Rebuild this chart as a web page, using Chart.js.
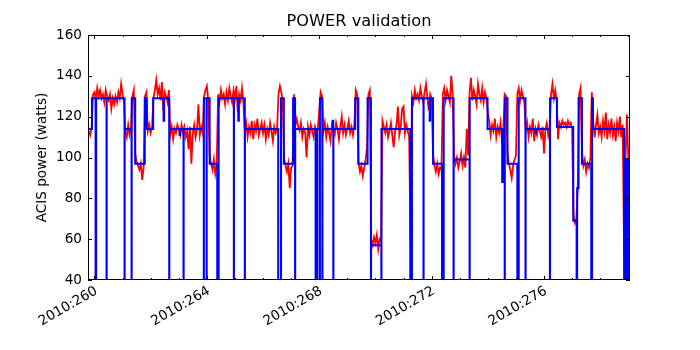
<!DOCTYPE html>
<html>
<head>
<meta charset="utf-8">
<title>POWER validation</title>
<script src="https://cdn.jsdelivr.net/npm/chart.js@4.4.0/dist/chart.umd.min.js"></script>
<style>
  html, body { margin: 0; padding: 0; background: #fff; }
</style>
</head>
<body>
<canvas id="powerChart" width="700" height="350"></canvas>
<script>
// axis ticks
const dayTicks = [260, 261, 262, 263, 264, 265, 266, 267, 268, 269, 270, 271, 272, 273, 274, 275, 276, 277, 278, 279];
const labelDays = [260, 264, 268, 272, 276];
const yTicks = [40, 60, 80, 100, 120, 140, 160];
const chartTitle = 'POWER validation';

// measured power (red), one sample every 0.05 day starting at 2010:259.80
const redStart = 259.8;
const redStep = 0.05;
const red259 = [113, 111, 115, 131];
const red260 = [132, 128, 134, 130, 133, 129, 131, 127, 133, 130, 128, 131, 124, 129, 126, 130, 127, 132, 129, 136];
const red261 = [131, 127, 113, 110, 116, 111, 114, 130, 133, 102, 98, 96, 94, 97, 89, 95, 130, 132, 113, 116];
const red262 = [112, 115, 129, 133, 138, 131, 134, 128, 137, 123, 132, 130, 127, 133, 111, 115, 109, 114, 112, 116];
const red263 = [114, 111, 116, 112, 115, 110, 113, 104, 115, 97, 112, 116, 110, 114, 126, 111, 115, 112, 130, 133];
const red264 = [135, 128, 101, 97, 94, 99, 92, 96, 131, 127, 133, 129, 131, 126, 132, 128, 134, 130, 127, 133];
const red265 = [129, 135, 122, 131, 128, 134, 127, 113, 117, 110, 115, 112, 118, 109, 116, 113, 119, 111, 114, 117];
const red266 = [112, 116, 109, 114, 111, 117, 113, 108, 115, 112, 114, 131, 135, 132, 128, 99, 96, 93, 97, 85];
const red267 = [95, 96, 131, 116, 119, 115, 113, 117, 110, 114, 112, 100, 115, 111, 116, 113, 110, 115, 112, 114];
const red268 = [123, 132, 130, 113, 117, 110, 115, 112, 108, 116, 113, 111, 117, 114, 109, 115, 120, 112, 116, 111];
const red269 = [114, 118, 112, 115, 111, 116, 133, 131, 97, 93, 96, 91, 95, 99, 105, 131, 133, 60, 57, 61];
const red270 = [58, 62, 55, 60, 59, 118, 115, 112, 116, 110, 113, 117, 111, 105, 113, 116, 125, 111, 115, 124];
const red271 = [125, 112, 116, 113, 110, 57, 130, 127, 133, 129, 131, 128, 134, 130, 127, 132, 136, 129, 123, 131];
const red272 = [129, 102, 96, 93, 97, 92, 95, 94, 131, 134, 128, 133, 130, 127, 140, 131, 101, 97, 100, 95];
const red273 = [98, 102, 96, 100, 95, 114, 101, 132, 139, 128, 133, 130, 126, 136, 131, 128, 134, 127, 132, 129];
const red274 = [122, 118, 111, 116, 113, 119, 110, 115, 112, 117, 109, 114, 131, 130, 102, 97, 94, 90, 96, 99];
const red275 = [101, 131, 134, 128, 133, 130, 127, 113, 117, 110, 115, 112, 119, 108, 114, 111, 116, 113, 110, 115];
const red276 = [102, 114, 117, 111, 115, 131, 136, 129, 133, 128, 109, 117, 115, 118, 116, 117, 115, 118, 116, 117];
const red277 = [114, 72, 68, 70, 85, 131, 134, 103, 96, 99, 93, 97, 95, 100, 132, 118, 110, 116, 121, 112];
const red278 = [115, 110, 118, 113, 122, 109, 116, 112, 119, 111, 115, 108, 117, 113, 120, 110, 116, 52, 100, 121];
const red279 = [99, 104];

// model power (blue), step changes: value holds from each day until the next
const blueDays = [
  259.77, 259.91, 260.04, 260.06, 260.43, 260.435, 261.07, 261.075, 261.32, 261.325,
  261.45, 261.79, 261.86, 262.09, 262.46, 262.48, 262.66, 262.665, 263.03, 263.05,
  263.17, 263.175, 263.89, 263.895, 263.99, 263.995, 264.10, 264.37, 264.42, 264.96,
  264.965, 265.12, 265.14, 265.35, 265.355, 266.54, 266.64, 266.74, 267.07, 267.14,
  267.145, 267.87, 267.93, 268.02, 268.025, 268.11, 268.115, 268.49, 268.50, 268.505,
  269.28, 269.39, 269.72, 269.84, 269.845, 270.21, 270.215, 271.24, 271.30, 271.71,
  271.715, 271.93, 271.95, 272.05, 272.37, 272.43, 272.78, 272.785, 273.35, 273.355,
  273.99, 274.51, 274.53, 274.60, 274.605, 274.70, 275.05, 275.10, 275.34, 275.345,
  275.70, 275.72, 276.21, 276.215, 276.46, 277.04, 277.16, 277.18, 277.23, 277.35,
  277.68, 277.71, 277.74, 278.85, 278.88, 278.93, 278.935, 279.00, 279.005, 279.06
];
const bluePower = [
  114, 129, 0, 129, 0, 129, 0, 114, 0, 129,
  97, 129, 114, 129, 118, 129, 0, 114, 111, 114,
  0, 114, 0, 129, 0, 129, 97, 0, 129, 0,
  129, 118, 129, 0, 114, 0, 129, 97, 129, 0,
  114, 0, 114, 0, 129, 0, 114, 118, 0, 114,
  129, 97, 129, 0, 57, 0, 114, 0, 129, 0,
  129, 118, 129, 97, 0, 129, 0, 99, 0, 129,
  114, 88, 114, 0, 129, 97, 0, 129, 0, 114,
  112, 114, 0, 129, 115, 69, 0, 85, 129, 97,
  0, 129, 114, 0, 99, 0, 99, 0, 99, 99
];

const redSeries = [red259, red260, red261, red262, red263, red264, red265, red266, red267, red268,
  red269, red270, red271, red272, red273, red274, red275, red276, red277, red278, red279].flat();
const redPoints = redSeries.map((v, i) => ({ x: Math.round((redStart + i * redStep) * 100) / 100, y: v }));
const bluePoints = blueDays.map((d, i) => ({ x: d, y: bluePower[i] }));

// matplotlib-like frame with inward ticks on all four sides, title centred over the plot
const frameTicks = {
  id: 'frameTicks',
  afterDatasetsDraw(chart) {
    const { ctx, chartArea: a, scales: { x, y } } = chart;
    ctx.save();
    ctx.strokeStyle = '#000';
    ctx.lineWidth = 1;
    ctx.beginPath();
    dayTicks.forEach(d => {
      const px = Math.round(x.getPixelForValue(d)) + 0.5;
      const len = labelDays.includes(d) ? 4 : 2;
      ctx.moveTo(px, a.bottom); ctx.lineTo(px, a.bottom - len);
      ctx.moveTo(px, a.top); ctx.lineTo(px, a.top + len);
    });
    yTicks.forEach(v => {
      const py = Math.round(y.getPixelForValue(v)) + 0.5;
      ctx.moveTo(a.left, py); ctx.lineTo(a.left + 4, py);
      ctx.moveTo(a.right, py); ctx.lineTo(a.right - 4, py);
    });
    ctx.stroke();
    ctx.strokeRect(Math.round(a.left) + 0.5, Math.round(a.top) + 0.5,
      Math.round(a.right - a.left) - 1, Math.round(a.bottom - a.top) - 1);

    ctx.fillStyle = '#000';
    ctx.font = '16.2px "DejaVu Sans", sans-serif';
    ctx.textAlign = 'center';
    ctx.textBaseline = 'middle';
    ctx.fillText(chartTitle, (a.left + a.right) / 2, 22);
    ctx.restore();
  }
};

Chart.defaults.font.family = '"DejaVu Sans", sans-serif';
Chart.defaults.color = '#000';

const powerCtx = document.getElementById('powerChart').getContext('2d');
const powerChart = new Chart(powerCtx, {
  type: 'line',
  data: {
    datasets: [{
      label: 'model',
      data: bluePoints,
      borderColor: '#0000ff',
      borderWidth: 2,
      stepped: 'before',
      pointRadius: 0,
      fill: false
    }, {
      label: 'telemetry',
      data: redPoints,
      borderColor: '#ff0000',
      borderWidth: 1.8,
      pointRadius: 0,
      tension: 0,
      fill: false
    }]
  },
  options: {
    responsive: false,
    animation: false,
    events: [],
    layout: { padding: { left: 0, right: 70, top: 35, bottom: 0 } },
    plugins: {
      legend: { display: false },
      tooltip: { enabled: false },
      title: { display: false }
    },
    scales: {
      x: {
        type: 'linear',
        min: 259.77,
        max: 279.06,
        grid: { display: false, drawTicks: false },
        border: { display: false },
        afterBuildTicks: scale => { scale.ticks = dayTicks.map(d => ({ value: d })); },
        afterFit: scale => { scale.height = 70; },
        ticks: {
          autoSkip: false,
          minRotation: 30,
          maxRotation: 30,
          padding: 3,
          labelOffset: 2,
          font: { size: 13.6 },
          callback: value => labelDays.includes(value) ? '2010:' + value : ''
        }
      },
      y: {
        min: 40,
        max: 160,
        grid: { display: false, drawTicks: false },
        border: { display: false },
        afterBuildTicks: scale => { scale.ticks = yTicks.map(v => ({ value: v })); },
        afterFit: scale => { scale.width = 88; },
        ticks: { padding: 6, font: { size: 13.6 } },
        title: {
          display: true,
          text: 'ACIS power (watts)',
          font: { size: 13.6 },
          padding: { top: 34, bottom: 0 }
        }
      }
    }
  },
  plugins: [frameTicks]
});
</script>
</body>
</html>
